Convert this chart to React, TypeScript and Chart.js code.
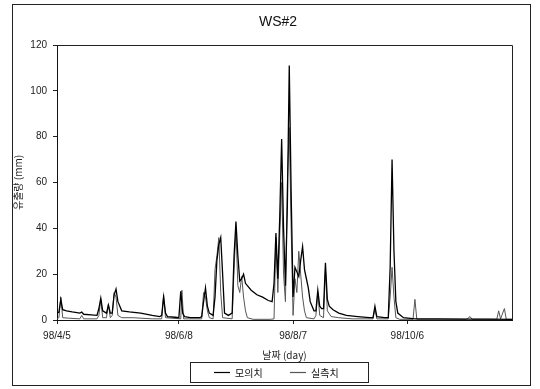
import React, { useEffect, useRef } from "react";
import { Chart, registerables } from "chart.js";

Chart.register(...registerables);

const chartTitle = "WS#2";
const yAxisTitle = "유출량 (mm)";
const xAxisTitle = "날짜 (day)";
const seriesNames = ["모의치", "실측치"];

const tickDays = [0, 64, 124, 184];
const tickLabels = ["98/4/5", "98/6/8", "98/8/7", "98/10/6"];
const yTicks = [0, 20, 40, 60, 80, 100, 120];

const simDays = [
  0, 1, 2, 3, 5, 8, 12, 13, 14, 18, 21, 22, 23, 24, 26, 27, 28, 29, 30, 31, 32, 34, 38, 44, 50,
  54, 55, 56, 57, 58, 62, 64, 65, 66, 67, 70, 75, 76, 77, 78, 79, 80, 82, 83, 84, 85, 86, 87, 88,
  90, 92, 93, 94, 95, 96, 97, 98, 99, 100, 102, 105, 108, 111, 113, 114, 115, 116, 117, 118, 119,
  120, 121, 122, 123, 124, 125, 126, 127, 128, 129, 130, 131, 132, 133, 135, 136, 137, 138, 139,
  140, 141, 142, 143, 145, 148, 152, 158, 164, 166, 167, 168, 172, 174, 175, 176, 177, 178, 179,
  182, 188, 200, 215, 225, 239,
];
const simValues = [
  3, 3.5, 9, 4.5, 4, 3.5, 3, 3.5, 2.5, 2.2, 2, 5, 9.5, 4, 3, 6.5, 3, 3, 11, 13.5, 8, 4, 3.5, 3, 2,
  1.5, 2, 10, 3, 1.5, 1.2, 1, 12.5, 3, 1.5, 1, 1, 1.5, 8, 14, 6, 3, 2, 10, 26, 33, 36, 20, 3,
  2, 3, 28, 43, 28, 17, 18, 20, 16, 15, 13, 11, 10, 8.5, 8, 16, 38, 18, 45, 79, 40,
  15, 50, 111, 55, 10, 23, 21, 19, 26, 32, 22, 18, 14, 8, 4, 4, 13, 6, 5,
  5, 25, 9, 6, 4.5, 3, 2, 1.5, 1, 1, 6, 1.5, 1, 1, 23, 70, 30, 8, 3,
  1, 0.5, 0.5, 0.4, 0.4, 0.3,
];

const obsDays = [
  0, 1, 2, 3, 6, 12, 13, 14, 21, 22, 23, 24, 26, 27, 28, 29, 30, 31, 32, 34, 40, 50, 55, 56, 57,
  65, 65.6, 66.5, 76, 77, 78, 79, 80, 82, 83, 84, 85, 86, 87, 92, 93, 94, 95, 96, 97, 98, 99, 100,
  103, 112, 114, 115, 116, 117, 118, 119, 120, 121, 122, 123, 124, 125, 126, 127, 128, 129, 130,
  131, 135, 136, 137, 138, 140, 141, 142, 144, 148, 155, 166, 167, 168, 174, 175, 176, 177, 178,
  180, 187, 188, 189, 215, 217, 218, 231, 232, 233, 235, 236, 239,
];
const obsValues = [
  0.5, 1, 10, 1, 0.8, 0.5, 2, 0.5, 0.5, 2, 9, 1, 1, 7, 1, 2, 12, 10, 2, 1, 1, 0.5, 0.5, 11, 1,
  0.5, 13, 0.5, 0.5, 12, 10, 4, 1, 0.5, 22, 28, 36, 12, 1, 0.5, 22, 40, 15, 12, 19, 10, 4, 1,
  0.3, 0.3, 0.5, 36, 12, 37, 60, 20, 8, 60, 84, 40, 2, 18, 12, 30, 20, 10, 4,
  1, 0.5, 2, 12, 2, 1, 22, 4, 1.5, 1, 0.5, 0.5, 5, 0.5, 0.5, 10, 23, 10, 1,
  0.3, 0.3, 9, 0.3, 0.3, 1.5, 0.3, 0.3, 4, 0.5, 5, 0.3, 0.3,
];

const FONT = "'Liberation Sans', 'Noto Sans CJK KR', Arial, sans-serif";
const KFONT = "'Noto Sans CJK KR', 'Liberation Sans', sans-serif";

const decorPlugin = {
  id: "decor",
  afterDraw(chart: any) {
    const ctx = chart.ctx;
    const ca = chart.chartArea;
    ctx.save();
    ctx.strokeStyle = "#222";
    ctx.lineWidth = 1;
    ctx.strokeRect(12.5, 4.5, 518, 381);
    ctx.beginPath();
    ctx.moveTo(ca.left, ca.top + 0.5);
    ctx.lineTo(ca.right + 0.5, ca.top + 0.5);
    ctx.lineTo(ca.right + 0.5, ca.bottom);
    ctx.stroke();
    ctx.fillStyle = "#111";
    ctx.font = `14px ${FONT}`;
    ctx.textAlign = "center";
    ctx.textBaseline = "middle";
    ctx.fillText(chartTitle, 278, 22);
    ctx.strokeRect(190.5, 362.5, 178, 20);
    ctx.font = `10px ${KFONT}`;
    ctx.textAlign = "left";
    const colors = ["#000", "#555"];
    const xs = [214, 290];
    for (let i = 0; i < 2; i++) {
      ctx.strokeStyle = colors[i];
      ctx.lineWidth = 1.2;
      ctx.beginPath();
      ctx.moveTo(xs[i], 372.5);
      ctx.lineTo(xs[i] + 16, 372.5);
      ctx.stroke();
      ctx.fillText(seriesNames[i], xs[i] + 21, 373);
    }
    ctx.restore();
  },
};

export default function App() {
  const ref = useRef<HTMLCanvasElement | null>(null);
  useEffect(() => {
    if (!ref.current) return;
    Chart.defaults.font.family = FONT;
    const chart = new Chart(ref.current, {
      type: "line",
      data: {
        datasets: [
          {
            label: seriesNames[0],
            data: simDays.map((d, i) => ({ x: d, y: simValues[i] })),
            borderColor: "#000",
            borderWidth: 1.3,
            pointRadius: 0,
            tension: 0,
            fill: false,
          },
          {
            label: seriesNames[1],
            data: obsDays.map((d, i) => ({ x: d, y: obsValues[i] })),
            borderColor: "#555",
            borderWidth: 1,
            pointRadius: 0,
            tension: 0,
            fill: false,
          },
        ],
      },
      options: {
        responsive: false,
        animation: false,
        layout: { padding: { left: 12, top: 45, right: 28, bottom: 28 } },
        plugins: { legend: { display: false }, title: { display: false }, tooltip: { enabled: false } },
        scales: {
          x: {
            type: "linear",
            min: 0,
            max: 239,
            afterBuildTicks: (scale: any) => {
              scale.ticks = tickDays.map((v) => ({ value: v }));
            },
            afterFit: (scale: any) => {
              scale.height = 41;
            },
            ticks: {
              autoSkip: false,
              maxRotation: 0,
              padding: 6,
              color: "#222",
              font: { size: 10 },
              callback: (v: any) => {
                const i = tickDays.indexOf(Number(v));
                return i >= 0 ? tickLabels[i] : "";
              },
            },
            grid: { drawOnChartArea: false, drawTicks: true, tickLength: 4, color: "#222" },
            border: { display: true, color: "#111", width: 1 },
            title: { display: true, text: xAxisTitle, color: "#222", font: { size: 10, family: KFONT }, padding: 0 },
          },
          y: {
            type: "linear",
            min: 0,
            max: 120,
            afterBuildTicks: (scale: any) => {
              scale.ticks = yTicks.map((v) => ({ value: v }));
            },
            afterFit: (scale: any) => {
              scale.width = 45;
            },
            ticks: { padding: 6, color: "#222", font: { size: 10 } },
            grid: { drawOnChartArea: false, drawTicks: true, tickLength: 4, color: "#222" },
            border: { display: true, color: "#111", width: 1 },
            title: { display: true, text: yAxisTitle, color: "#222", font: { size: 10, family: KFONT }, padding: 0 },
          },
        },
      },
      plugins: [decorPlugin],
    } as any);
    return () => chart.destroy();
  }, []);
  return (
    <div style={{ position: "absolute", left: 0, top: 0, width: 540, height: 389, background: "#fff" }}>
      <canvas ref={ref} width={540} height={389} style={{ display: "block" }} />
    </div>
  );
}
